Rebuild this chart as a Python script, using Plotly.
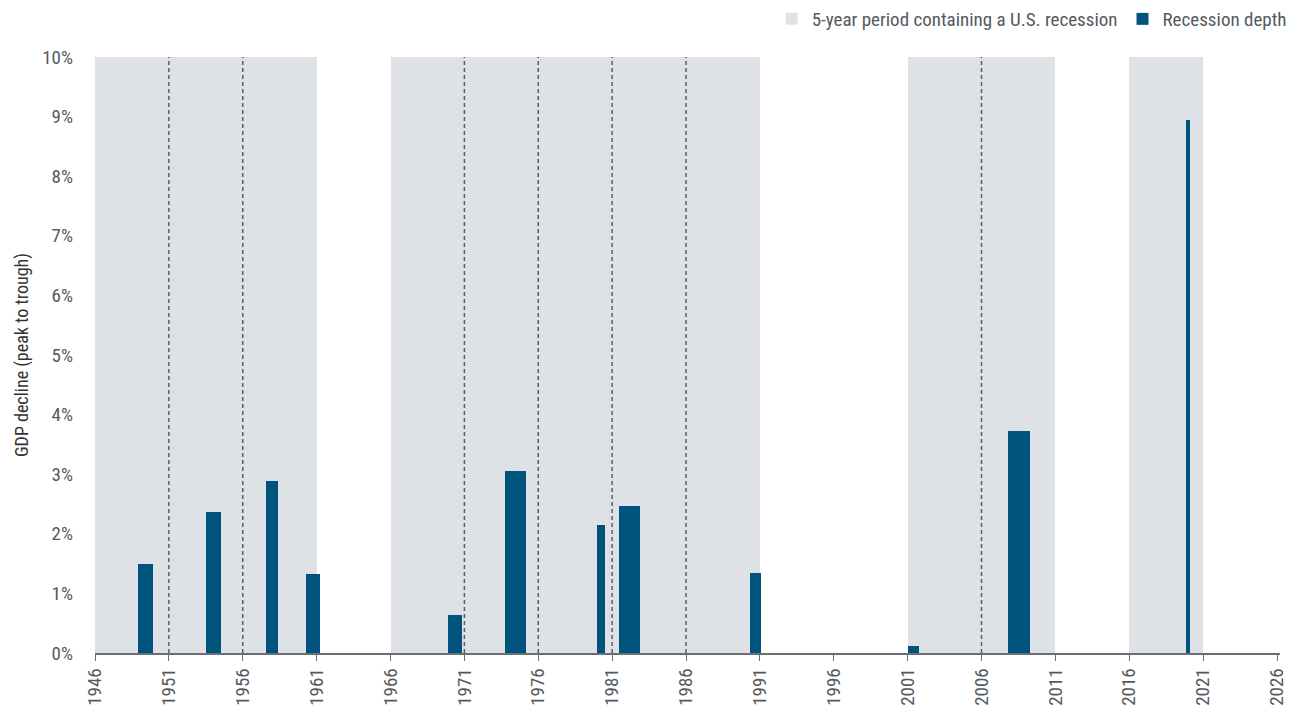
import plotly.graph_objects as go

# 5-year periods containing a U.S. recession (start year of each period)
period_starts = [1946, 1951, 1956, 1966, 1971, 1976, 1981, 1986, 2001, 2006, 2016]
period_length = 5

# Recessions: start, end (fractional years) and peak-to-trough GDP decline (%)
rec_start = [1948.9, 1953.5, 1957.6, 1960.3, 1969.9, 1973.75, 1980.0, 1981.45, 1990.35, 2001.0, 2007.8, 2019.85]
rec_end = [1949.9, 1954.5, 1958.4, 1961.2, 1970.85, 1975.17, 1980.5, 1982.86, 1991.1, 2001.76, 2009.3, 2020.1]
rec_depth = [1.50, 2.37, 2.89, 1.32, 0.645, 3.06, 2.14, 2.46, 1.35, 0.11, 3.73, 8.94]

x_ticks = list(range(1946, 2027, 5))
y_ticks = list(range(0, 11))

SHADE = "#dee1e6"
BAR = "#00537c"
TEXT = "#555a60"
FONT = "Roboto Condensed, Liberation Sans Narrow, Roboto, sans-serif"

fig = go.Figure()

fig.add_trace(go.Bar(
    x=[s + period_length / 2 for s in period_starts],
    y=[10] * len(period_starts),
    width=[period_length] * len(period_starts),
    marker=dict(color=SHADE, line=dict(width=0)),
    name="5-year period containing a U.S. recession",
    hoverinfo="skip",
))

fig.add_trace(go.Bar(
    x=[(a + b) / 2 for a, b in zip(rec_start, rec_end)],
    y=rec_depth,
    width=[b - a for a, b in zip(rec_start, rec_end)],
    marker=dict(color=BAR, line=dict(width=0)),
    name="Recession depth",
))

# dashed separators between adjacent shaded periods
shapes = []
for s in period_starts:
    if s - period_length in period_starts:
        shapes.append(dict(
            type="line", xref="x", yref="y", x0=s, x1=s, y0=0, y1=10,
            line=dict(color="#5a5e64", width=1.5, dash="4px,3px"), layer="above",
        ))

fig.update_layout(
    width=1306, height=707,
    margin=dict(l=95, r=26, t=57, b=54, autoexpand=False),
    paper_bgcolor="white", plot_bgcolor="white",
    barmode="overlay",
    bargap=0,
    font=dict(family=FONT, size=19, color=TEXT),
    shapes=shapes,
    showlegend=True,
    legend=dict(
        orientation="h", x=0.989, xanchor="right", xref="container",
        y=1.0, yanchor="top", yref="container",
        font=dict(size=19, color=TEXT), traceorder="normal",
        itemwidth=30, bgcolor="rgba(0,0,0,0)",
    ),
    xaxis=dict(
        range=[1946, 2026.2], tickmode="array", tickvals=x_ticks,
        ticktext=[str(t) for t in x_ticks], tickangle=-90,
        showgrid=False, zeroline=False,
        showline=True, linecolor="#6b6f75", linewidth=1.5,
        ticks="outside", ticklen=6, tickcolor="#6b6f75", tickwidth=1.2,
        tickfont=dict(size=19, color=TEXT),
    ),
    yaxis=dict(
        range=[0, 10], tickmode="array", tickvals=y_ticks,
        ticktext=[f"{t}%" for t in y_ticks],
        showgrid=False, zeroline=False, showline=False,
        ticks="", ticklabelstandoff=21,
        tickfont=dict(size=19, color=TEXT),
        title=dict(text="GDP decline (peak to trough)", font=dict(size=18, color="#333"), standoff=8),
    ),
)

fig.write_html("out.html")
